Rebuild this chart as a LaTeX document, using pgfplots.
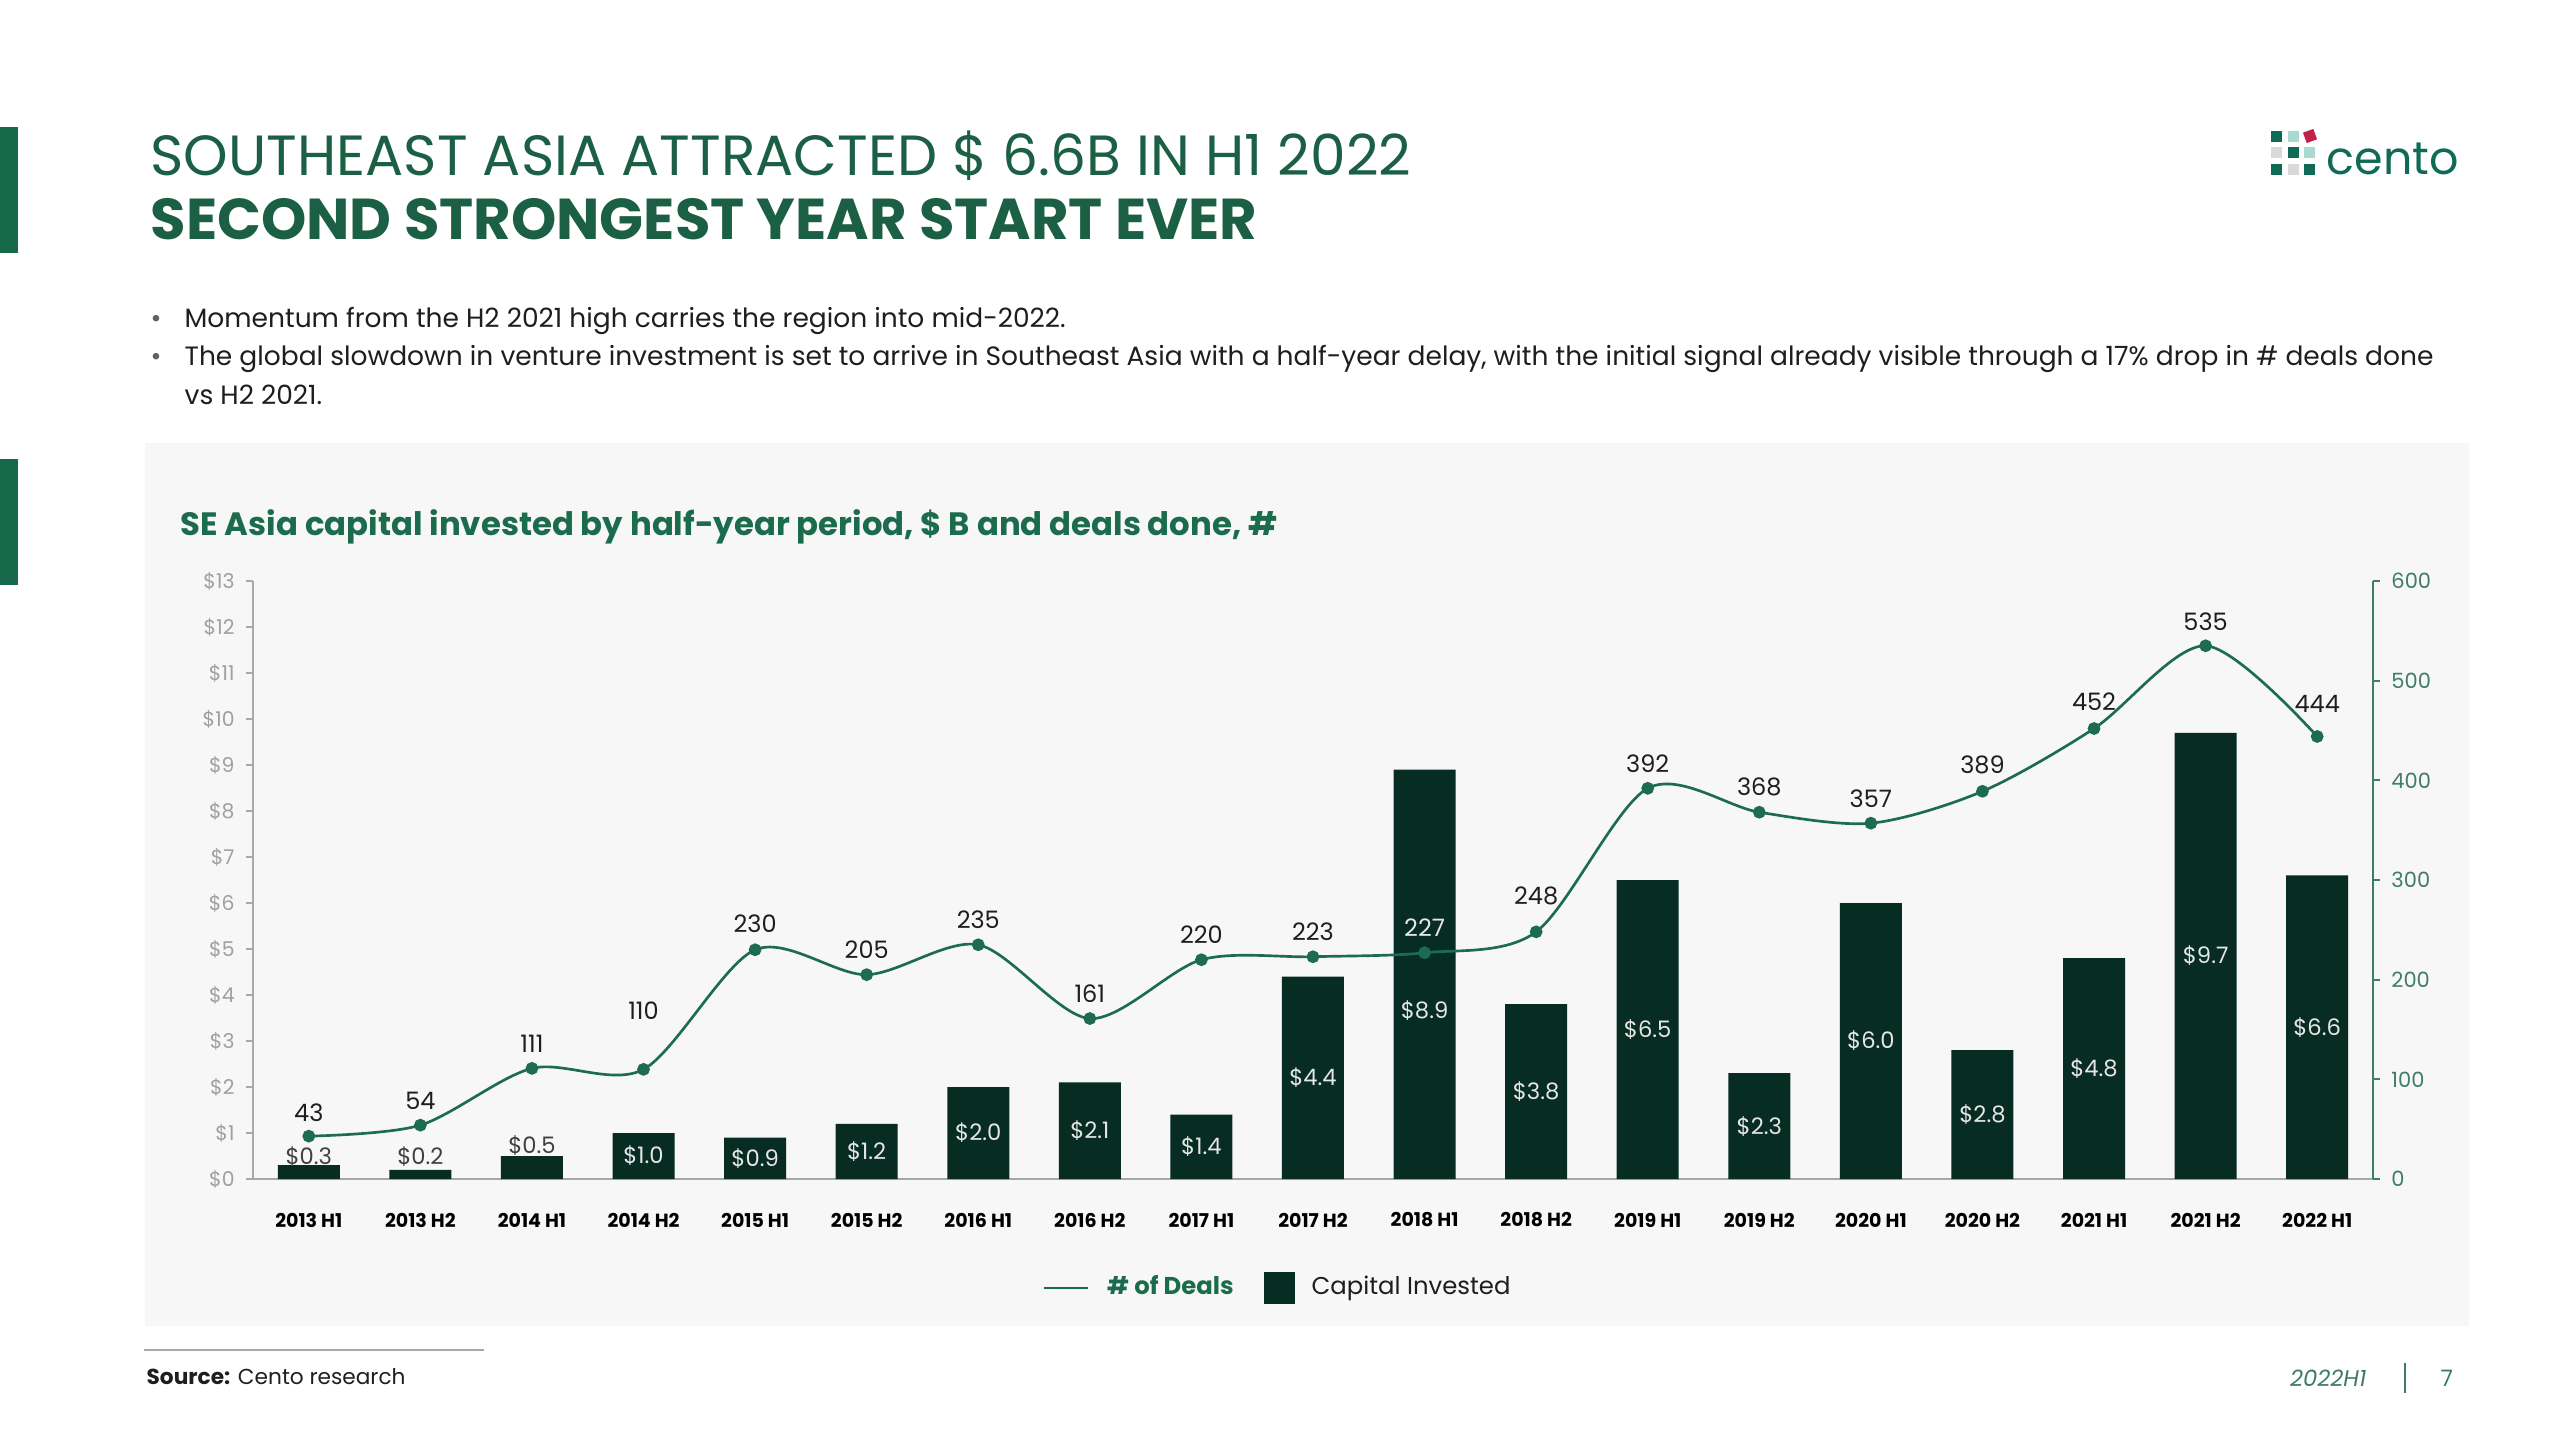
\documentclass[border=0pt]{standalone}
\usepackage{pgfplots}
\pgfplotsset{compat=1.18}
\usepackage{pgfplotstable}
\usepackage{fontspec}
\setmainfont{Poppins}
\pgfplotsset{/pgf/number format/assume math mode=true}

\definecolor{bardark}{HTML}{072C22}
\definecolor{linegreen}{HTML}{1D6B52}
\definecolor{titlegreen}{HTML}{1B5F45}
\definecolor{charttitle}{HTML}{1B6B4D}
\definecolor{accent}{HTML}{17694B}
\definecolor{panel}{HTML}{F7F7F7}
\definecolor{tickgrey}{HTML}{A0A0A0}
\definecolor{axisgrey}{HTML}{A8A8A8}
\definecolor{rightgreen}{HTML}{3F7D66}
\definecolor{textdark}{HTML}{1E1E1E}
\definecolor{barlabel}{HTML}{E6E6E6}
\definecolor{logogreen}{HTML}{0F6B55}
\definecolor{logoteal}{HTML}{A9D9D1}
\definecolor{logogrey}{HTML}{D9D9D9}
\definecolor{logored}{HTML}{C2214B}
\definecolor{footgreen}{HTML}{3E7A65}

% x: period index; cap: capital invested ($B) with label height caply;
% deals: number of deals with label height deally
\pgfplotstableread{
x  cap  caply  deals  deally
0  0.3  0.48   43     67
1  0.2  0.48   54     78
2  0.5  0.72   111    136
3  1.0  0.50   110    169
4  0.9  0.45   230    256
5  1.2  0.60   205    230
6  2.0  1.00   235    260
7  2.1  1.05   161    186
8  1.4  0.70   220    245
9  4.4  2.20   223    248
10 8.9  3.66   227    252
11 3.8  1.90   248    284
12 6.5  3.25   392    417
13 2.3  1.15   368    393
14 6.0  3.00   357    382
15 2.8  1.40   389    415
16 4.8  2.40   452    479
17 9.7  4.85   535    559
18 6.6  3.30   444    477
}\data

\begin{document}
\begin{tikzpicture}[x=0.3pt,y=0.3pt]
\useasboundingbox (0,0) rectangle (2560,1440);
\fill[white] (0,0) rectangle (2560,1440);

% side accents
\fill[accent] (0,1187) rectangle (18,1313);
\fill[accent] (0,855) rectangle (18,981);

% headline
\node[anchor=base west, inner sep=0, text=titlegreen, font=\fontsize{17}{20}\selectfont]
  at (150,1264) {SOUTHEAST ASIA ATTRACTED \$ 6.6B IN H1 2022};
\node[anchor=base west, inner sep=0, text=titlegreen, font=\bfseries\fontsize{17.3}{20}\selectfont]
  at (150,1200) {SECOND STRONGEST YEAR START EVER};

% logo
\fill[logogreen] (2271,1298) rectangle (2282,1309);
\fill[logoteal]  (2288,1298) rectangle (2299,1309);
\fill[logored, rotate around={20:(2310,1304)}] (2304.5,1298.5) rectangle (2315.5,1309.5);
\fill[logogrey]  (2271,1282) rectangle (2282,1293);
\fill[logogreen] (2288,1282) rectangle (2299,1293);
\fill[logoteal]  (2304,1282) rectangle (2315,1293);
\fill[logogreen] (2271,1265) rectangle (2282,1276);
\fill[logogrey]  (2288,1265) rectangle (2299,1276);
\fill[logogreen] (2304,1265) rectangle (2315,1276);
\node[anchor=base west, inner sep=0, text=logogreen, font=\fontsize{13.8}{16}\selectfont]
  at (2326,1265) {cento};

% bullets
\begin{scope}[every node/.style={anchor=base west, inner sep=0, text=textdark, font=\fontsize{7.95}{10}\selectfont}]
\node[text=textdark!70] at (150,1112) {\textbullet};
\node at (184,1112) {Momentum from the H2 2021 high carries the region into mid-2022.};
\node[text=textdark!70] at (150,1074) {\textbullet};
\node at (184,1074) {The global slowdown in venture investment is set to arrive in Southeast Asia with a half-year delay, with the initial signal already visible through a 17\% drop in \# deals done};
\node at (184,1035) {vs H2 2021.};
\end{scope}

% chart panel
\fill[panel] (145,114) rectangle (2469,997);
\node[anchor=base west, inner sep=0, text=charttitle, font=\bfseries\fontsize{9.7}{11}\selectfont]
  at (180,904) {SE Asia capital invested by half-year period, \$ B and deals done, \#};

% capital invested (bars, left axis)
\begin{axis}[
  at={(75.9pt,78.3pt)}, anchor=south west, scale only axis,
  width=636pt, height=179.4pt,
  xmin=-0.5, xmax=18.5, ymin=0, ymax=13,
  axis lines*=left, clip=false,
  axis line style={axisgrey, line width=0.6pt},
  tick align=outside, major tick length=2pt,
  xtick={0,...,18},
  xticklabels={2013 H1,2013 H2,2014 H1,2014 H2,2015 H1,2015 H2,2016 H1,2016 H2,2017 H1,2017 H2,2018 H1,2018 H2,2019 H1,2019 H2,2020 H1,2020 H2,2021 H1,2021 H2,2022 H1},
  xtick style={draw=none},
  xticklabel style={font=\bfseries\fontsize{5.7}{6}\selectfont, text=black, anchor=center, yshift=-10.3pt},
  ytick={0,...,13},
  yticklabel={\$\pgfmathprintnumber{\tick}},
  ytick style={axisgrey, line width=0.6pt},
  yticklabel style={font=\fontsize{6.1}{7}\selectfont, text=tickgrey},
]
\addplot[ybar, bar width=18.6pt, fill=bardark, draw=none] table[x=x, y=cap] {\data};
\addplot[draw=none, mark=none, point meta=explicit,
  nodes near coords={\$\pgfmathprintnumber[fixed,fixed zerofill,precision=1]{\pgfplotspointmeta}},
  nodes near coords style={anchor=center, font=\fontsize{6.8}{7}\selectfont, text=barlabel},
  x filter/.expression={x<3 ? nan : x}]
  table[x=x, y=caply, meta=cap] {\data};
\addplot[draw=none, mark=none, point meta=explicit,
  nodes near coords={\$\pgfmathprintnumber[fixed,fixed zerofill,precision=1]{\pgfplotspointmeta}},
  nodes near coords style={anchor=center, font=\fontsize{6.8}{7}\selectfont, text=textdark!85},
  x filter/.expression={x<3 ? x : nan}]
  table[x=x, y=caply, meta=cap] {\data};
\end{axis}

% deals done (line, right axis)
\begin{axis}[
  at={(75.9pt,78.3pt)}, anchor=south west, scale only axis,
  width=636pt, height=179.4pt,
  xmin=-0.5, xmax=18.5, ymin=0, ymax=600,
  axis x line=none, axis y line*=right, clip=false,
  y axis line style={rightgreen, line width=0.6pt},
  tick align=outside, major tick length=2pt,
  ytick={0,100,...,600},
  ytick style={rightgreen, line width=0.6pt},
  yticklabel style={font=\fontsize{6.3}{7}\selectfont, text=rightgreen},
  legend style={at={(0.4845,-0.182)}, anchor=center, legend columns=2,
    draw=none, fill=none, font=\fontsize{7.3}{8}\selectfont,
    /tikz/every even column/.append style={column sep=7pt}},
  legend cell align=left,
]
\addplot[linegreen, line width=0.8pt, smooth, mark=*, mark size=1.5pt,
  mark options={fill=linegreen, draw=linegreen},
  legend image code/.code={\draw[linegreen, line width=0.8pt] (0pt,0pt) -- (13pt,0pt);}]
  table[x=x, y=deals] {\data};
\addlegendentry{\hspace{3.4pt}\textcolor{charttitle}{\bfseries\# of Deals}}
\addlegendimage{legend image code/.code={\fill[bardark] (0pt,-4.5pt) rectangle (9pt,4.5pt);}}
\addlegendentry{\hspace{3pt}\textcolor{textdark}{Capital Invested}}
\addplot[forget plot, draw=none, mark=none, point meta=explicit,
  nodes near coords={\pgfmathprintnumber{\pgfplotspointmeta}},
  nodes near coords style={anchor=center, font=\fontsize{7.2}{8}\selectfont, text=textdark},
  x filter/.expression={x==10 ? nan : x}]
  table[x=x, y=deally, meta=deals] {\data};
\addplot[forget plot, draw=none, mark=none, point meta=explicit,
  nodes near coords={\pgfmathprintnumber{\pgfplotspointmeta}},
  nodes near coords style={anchor=center, font=\fontsize{7.2}{8}\selectfont, text=barlabel},
  x filter/.expression={x==10 ? x : nan}]
  table[x=x, y=deally, meta=deals] {\data};
\end{axis}

% source and footer
\draw[axisgrey, line width=0.5pt] (144,90) -- (484,90);
\node[anchor=base west, inner sep=0, text=textdark, font=\fontsize{6.5}{8}\selectfont]
  at (146,55) {\textbf{Source:} Cento research};
\node[anchor=base east, inner sep=0, text=footgreen, font=\itshape\fontsize{6.8}{8}\selectfont]
  at (2367,53) {2022H1};
\draw[footgreen, line width=0.6pt] (2405,47) -- (2405,77);
\node[anchor=base west, inner sep=0, text=footgreen, font=\fontsize{6.8}{8}\selectfont]
  at (2440,53) {7};
\end{tikzpicture}
\end{document}
